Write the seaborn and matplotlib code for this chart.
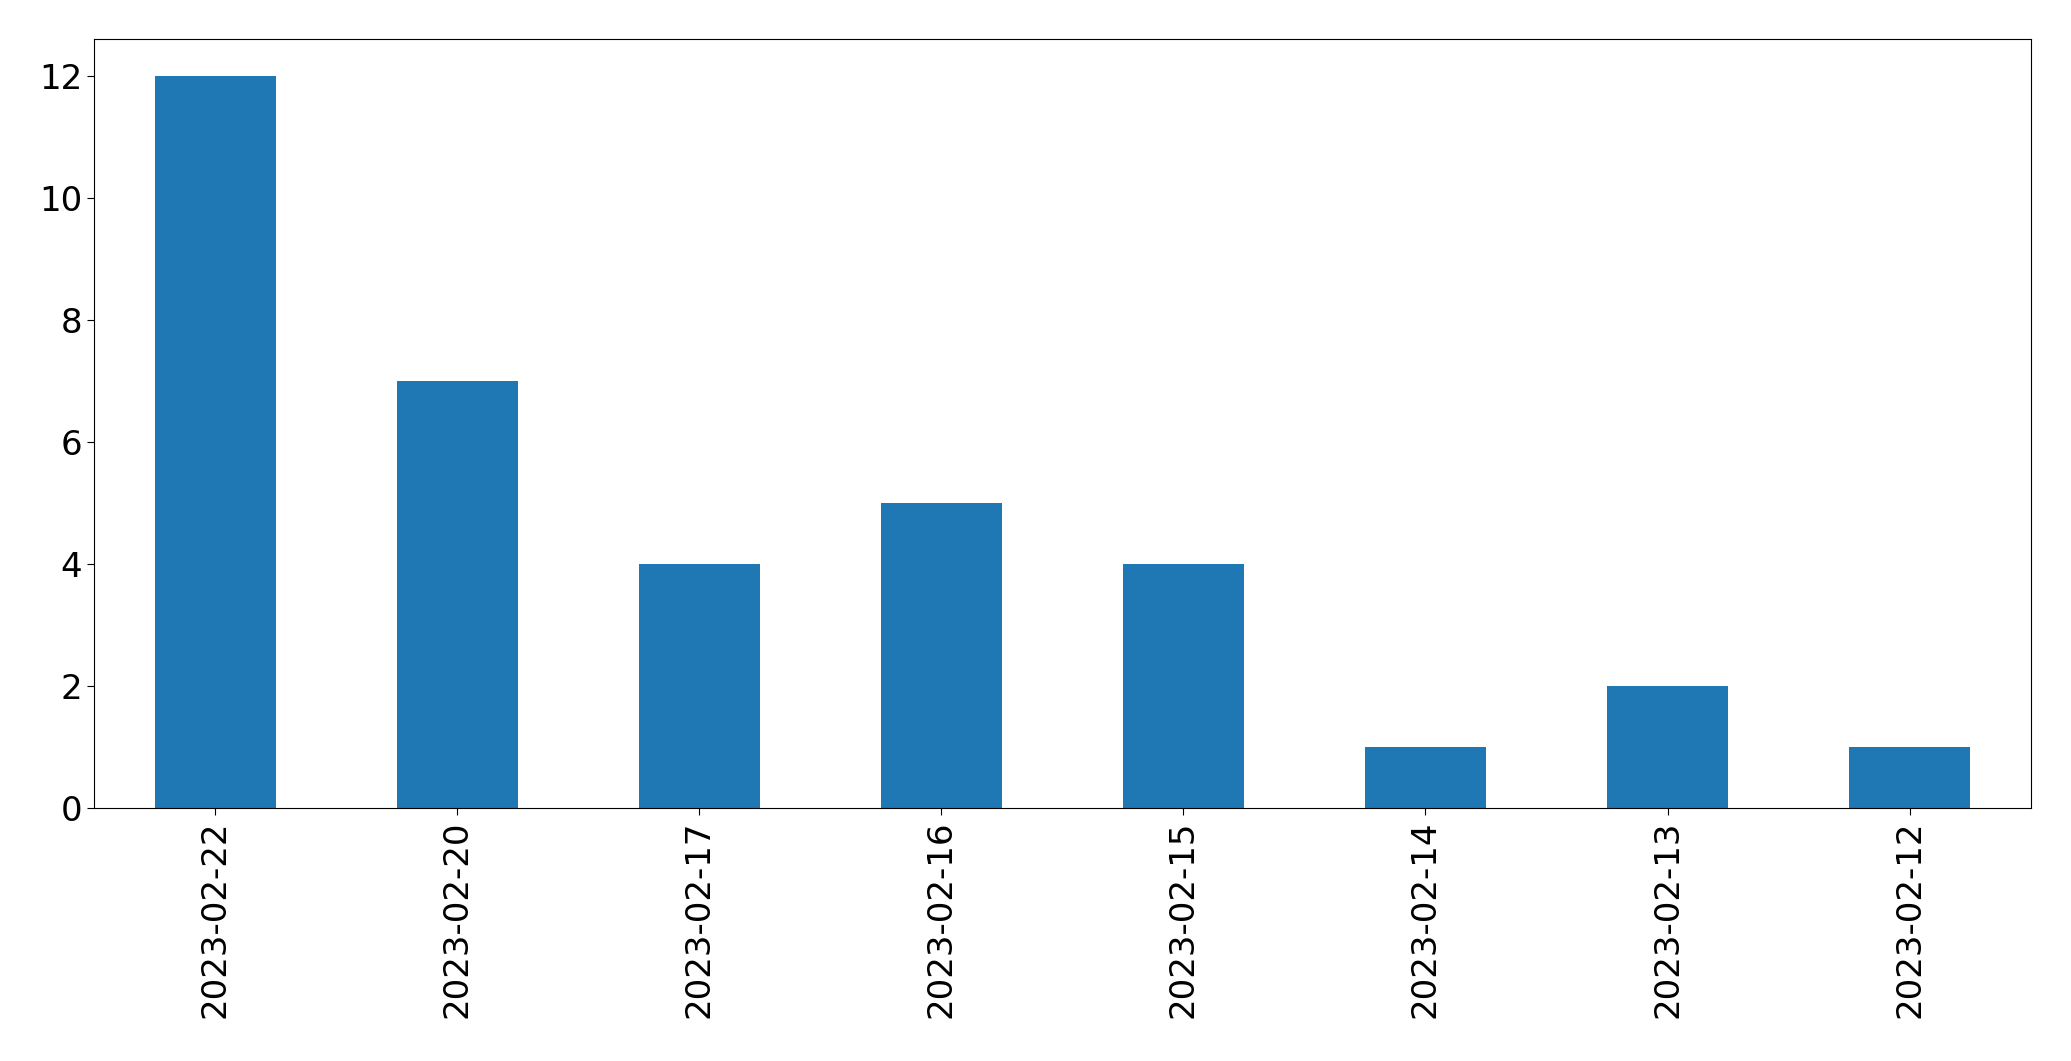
import pandas as pd
import numpy as np
import matplotlib
matplotlib.use('Agg')
import matplotlib.pyplot as plt
import seaborn as sns

# daily counts, in the order shown
dates = ['2023-02-22', '2023-02-20', '2023-02-17', '2023-02-16',
         '2023-02-15', '2023-02-14', '2023-02-13', '2023-02-12']
counts = [12, 7, 4, 5, 4, 1, 2, 1]

df = pd.DataFrame({'date': dates, 'count': counts})

fig = plt.figure(figsize=(20.71, 10.61), dpi=100)
ax = fig.add_axes([0.0455, 0.238, 0.935, 0.725])

sns.barplot(data=df, x='date', y='count', color='#1f77b4', saturation=1,
            width=0.5, ax=ax)

ax.set_xlabel('')
ax.set_ylabel('')
ax.set_xlim(-0.5, len(dates) - 0.5)
ax.set_ylim(0, 12.6)
ax.set_yticks([0, 2, 4, 6, 8, 10, 12])
ax.tick_params(axis='both', labelsize=24.5, length=5)
ax.tick_params(axis='x', rotation=90)

fig.savefig('out.png', dpi=100)
